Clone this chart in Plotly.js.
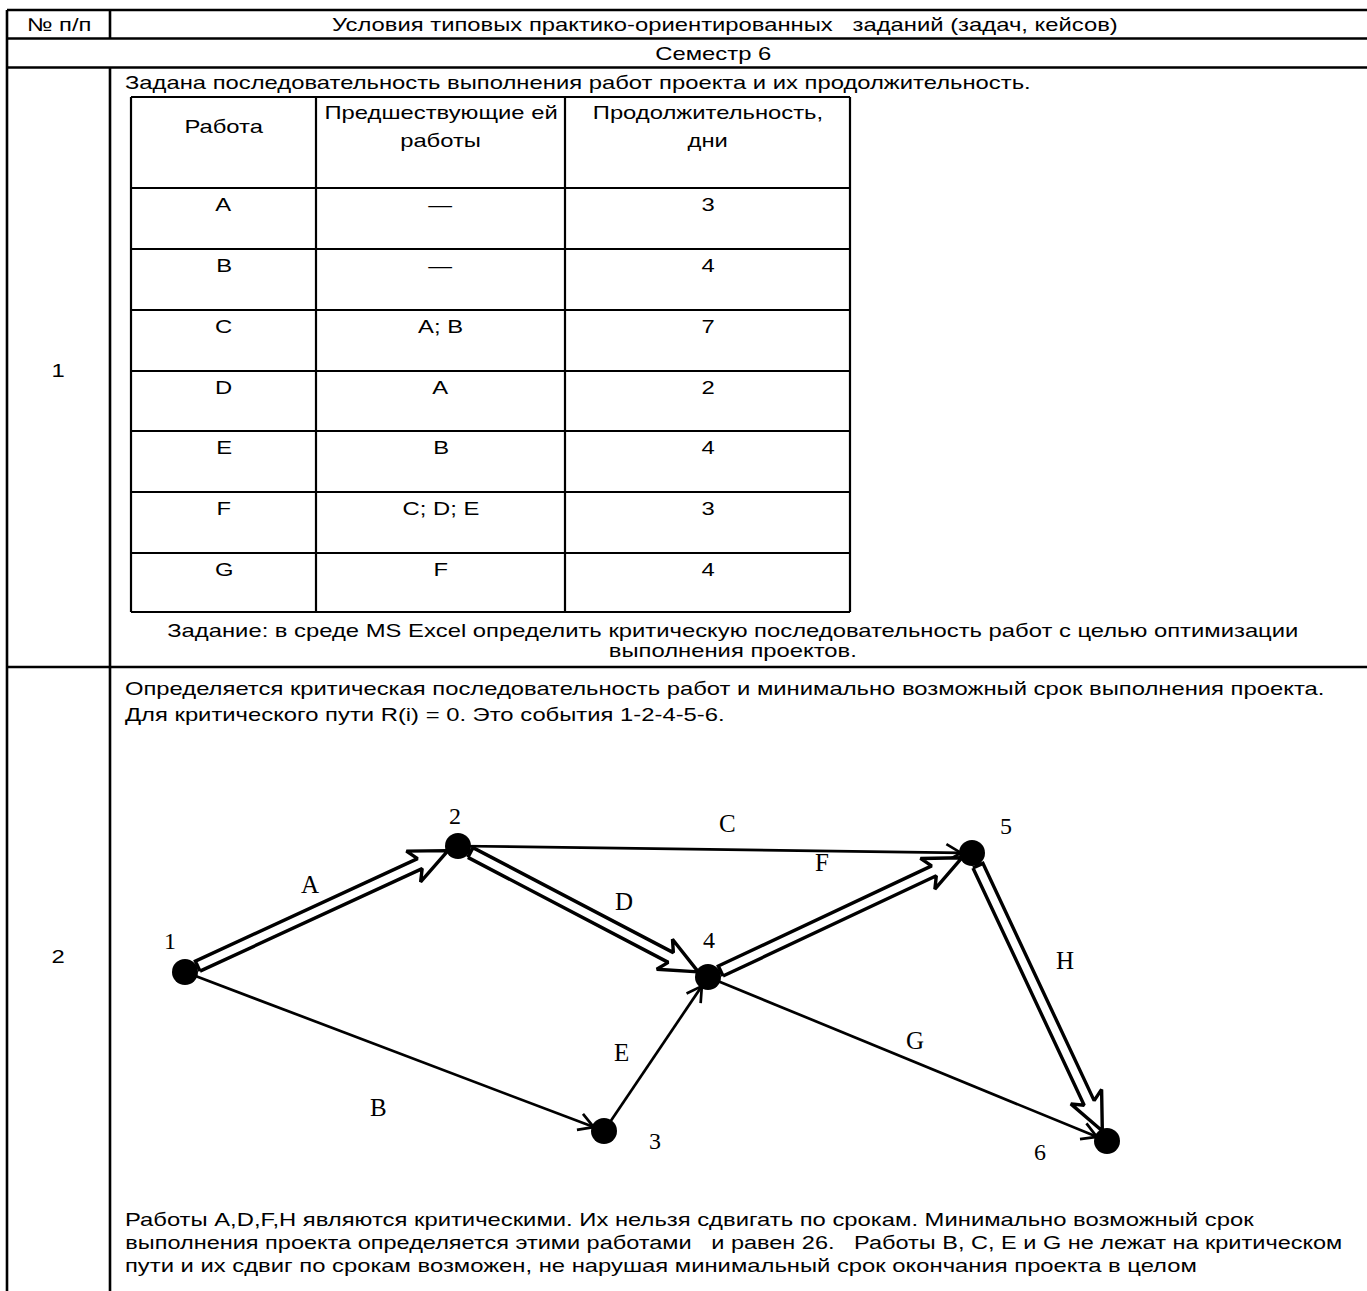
<!DOCTYPE html>
<html><head><meta charset="utf-8">
<script src="https://cdn.plot.ly/plotly-3.0.1.min.js"></script>
<style>html,body{margin:0;padding:0;background:#fff}#c{width:1367px;height:1291px}</style>
</head><body><div id="c"></div>
<script>
// ---- data ----
const works = ['A','B','C','D','E','F','G'];
const predecessors = ['—','—','A; B','A','B','C; D; E','F'];
const durations = [3,4,7,2,4,3,4];
const nodeIds = [1,2,3,4,5,6];
const nodeX = [185,458,604,708,972,1107];
const nodeY = [972,846,1131,977,853,1141];
const edgeNames = ['A','B','C','D','E','F','G','H'];
const edgeFrom = [1,1,2,2,3,4,4,5];
const edgeTo   = [2,3,5,4,4,5,6,6];
const edgeCritical = [true,false,false,true,false,true,false,true];

// ---- layout helpers ----
const W=1367,H=1291;
const sans='Liberation Sans, Arial, sans-serif';
const serif='Liberation Serif, Times New Roman, serif';
const FS=18.6, STRETCH=1.28;
const shapes=[], ann=[], traces=[], stretch=[];
function L(x0,y0,x1,y1,w){shapes.push({type:'line',xref:'x',yref:'y',x0,y0,x1,y1,line:{color:'#000',width:w||2}});}
function T(x,y,text,anchor,opts,k){
  if(!opts) stretch.push([ann.length,anchor||'center',k||STRETCH]);
  ann.push(Object.assign({x,y,xref:'x',yref:'y',text,showarrow:false,xanchor:anchor||'center',yanchor:'middle',font:{family:sans,size:FS,color:'#000'}},opts||{}));
}

// outer table
L(7,10,W,10,2.6); L(7,38.5,W,38.5,2.6); L(7,67.5,W,67.5,2.6); L(7,667,W,667,2.6);
L(7,10,7,H,2.6); L(110,10,110,38.5,2.6); L(110,67.5,110,H,2.6);
T(59,24,'№ п/п'); T(725,24,'Условия типовых практико-ориентированных &nbsp; заданий (задач, кейсов)');
T(713,53,'Семестр 6');
T(58,370,'1'); T(58,956,'2');
T(123,82,'Задана последовательность выполнения работ проекта и их продолжительность.','left');

// inner table
const cx=[131,316,565,850];
const ry=[97,188,249,310,371,431,492,553,612];
cx.forEach(x=>L(x,ry[0],x,ry[ry.length-1],2.2));
ry.forEach(y=>L(cx[0],y,cx[3],y,2.2));
T(223.5,126,'Работа'); T(440.5,112,'Предшествующие ей'); T(440.5,140,'работы');
T(707.5,112,'Продолжительность,'); T(707.5,140,'дни');
works.forEach((w,i)=>{
  const y=ry[i+1]+16;
  T(223.5,y,w); T(440.5,y,predecessors[i]); T(707.5,y,String(durations[i]));
});
T(733,630,'Задание: в среде MS Excel определить критическую последовательность работ с целью оптимизации');
T(733,650,'выполнения проектов.');

// row 2 texts
T(123,688,'Определяется критическая последовательность работ и минимально возможный срок выполнения проекта.','left');
T(123,714,'Для критического пути R(i) = 0. Это события 1-2-4-5-6.','left');
T(123,1219,'Работы A,D,F,H являются критическими. Их нельзя сдвигать по срокам. Минимально возможный срок','left');
T(123,1242,'выполнения проекта определяется этими работами &nbsp; и равен 26. &nbsp; Работы B, C, E и G не лежат на критическом','left',null,1.265);
T(123,1265,'пути и их сдвиг по срокам возможен, не нарушая минимальный срок окончания проекта в целом','left');

// ---- network ----
const pos={}; nodeIds.forEach((id,i)=>pos[id]=[nodeX[i],nodeY[i]]);
const simpleX=[],simpleY=[];
edgeNames.forEach((nm,i)=>{
  const P=pos[edgeFrom[i]],Q=pos[edgeTo[i]];
  const dx=Q[0]-P[0],dy=Q[1]-P[1],len=Math.hypot(dx,dy);
  const u=[dx/len,dy/len],n=[-u[1],u[0]];
  const s=[P[0]+u[0]*14,P[1]+u[1]*14];
  const t=[Q[0]-u[0]*11,Q[1]-u[1]*11];
  if(edgeCritical[i]){
    const w=5.5,hw=17,hl=38,jl=31;
    const b=[t[0]-u[0]*hl,t[1]-u[1]*hl], j=[t[0]-u[0]*jl,t[1]-u[1]*jl];
    const pts=[
      [s[0]+n[0]*w,s[1]+n[1]*w],[j[0]+n[0]*w,j[1]+n[1]*w],[b[0]+n[0]*hw,b[1]+n[1]*hw],t,
      [b[0]-n[0]*hw,b[1]-n[1]*hw],[j[0]-n[0]*w,j[1]-n[1]*w],[s[0]-n[0]*w,s[1]-n[1]*w],[s[0]+n[0]*w,s[1]+n[1]*w]];
    traces.push({type:'scatter',mode:'lines',x:pts.map(p=>p[0]),y:pts.map(p=>p[1]),fill:'toself',fillcolor:'#fff',line:{color:'#000',width:3.4},hoverinfo:'skip',showlegend:false});
  } else {
    const a=Math.PI/6,bl=17;
    const r1=[u[0]*Math.cos(a)-u[1]*Math.sin(a),u[0]*Math.sin(a)+u[1]*Math.cos(a)];
    const r2=[u[0]*Math.cos(-a)-u[1]*Math.sin(-a),u[0]*Math.sin(-a)+u[1]*Math.cos(-a)];
    simpleX.push(P[0],t[0],null,t[0]-r1[0]*bl,t[0],t[0]-r2[0]*bl,null);
    simpleY.push(P[1],t[1],null,t[1]-r1[1]*bl,t[1],t[1]-r2[1]*bl,null);
  }
});
traces.unshift({type:'scatter',mode:'lines',x:simpleX,y:simpleY,line:{color:'#000',width:2.7},hoverinfo:'skip',showlegend:false});
traces.push({type:'scatter',mode:'markers',x:nodeX,y:nodeY,marker:{color:'#000',size:26},hoverinfo:'skip',showlegend:false});

// labels (layout offsets)
const nodeLabelOff={1:[-15,-31],2:[-3,-30],3:[51,10],4:[1,-37],5:[34,-27],6:[-67,11]};
nodeIds.forEach(id=>T(pos[id][0]+nodeLabelOff[id][0],pos[id][1]+nodeLabelOff[id][1],String(id),'center',{font:{family:serif,size:24,color:'#000'}}));
const edgeLabelPos={A:[310,884],B:[378,1107],C:[727,823],D:[624,901],E:[621,1052],F:[822,862],G:[915,1040],H:[1065,960]};
edgeNames.forEach(nm=>T(edgeLabelPos[nm][0],edgeLabelPos[nm][1],nm,'center',{font:{family:serif,size:25,color:'#000'}}));

Plotly.newPlot('c',traces,{
  width:W,height:H,margin:{l:0,r:0,t:0,b:0},paper_bgcolor:'#fff',plot_bgcolor:'#fff',
  xaxis:{range:[0,W],visible:false,fixedrange:true},
  yaxis:{range:[H,0],visible:false,fixedrange:true},
  shapes,annotations:ann,showlegend:false
},{staticPlot:true}).then(gd=>{
  // the reference text is set wide: stretch the sans-serif texts horizontally
  stretch.forEach(([i,anchor,k])=>{
    const el=gd.querySelector('.annotation[data-index="'+i+'"] text');
    if(!el) return;
    el.style.transformBox='fill-box';
    el.style.transformOrigin=(anchor==='left'?'left':'center')+' center';
    el.style.transform='scaleX('+k+')';
  });
});
</script></body></html>
